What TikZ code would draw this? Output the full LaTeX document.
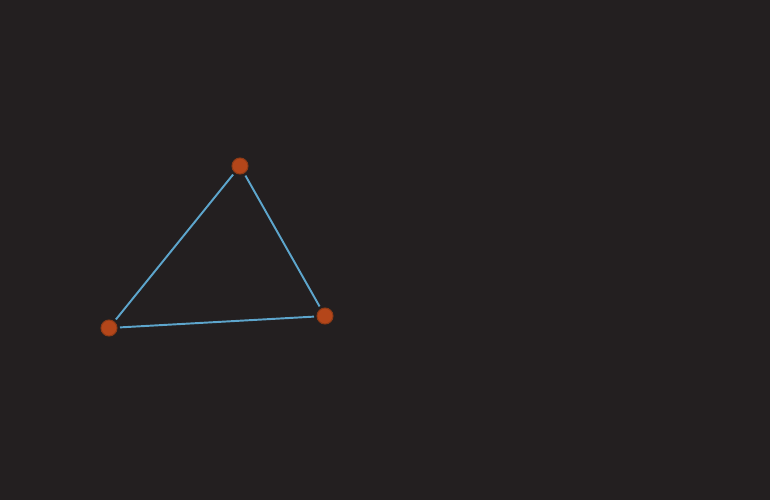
\documentclass[tikz,border=0pt]{standalone}
\definecolor{bgdark}{HTML}{231F20}
\definecolor{vertfill}{HTML}{B4461A}
\definecolor{vertline}{HTML}{8E3A16}
\definecolor{edgeblue}{HTML}{5DA5CC}
\tikzset{
  vert/.style={circle,fill=vertfill,draw=vertline,line width=0.3pt,minimum size=0.16cm,inner sep=0pt,outer sep=0.03cm},
  edge/.style={edgeblue,line width=0.55pt}
}
\begin{document}
\begin{tikzpicture}[x=0.01cm,y=-0.01cm]
\fill[bgdark] (0,0) rectangle (770,500);
\useasboundingbox (0,0) rectangle (770,500);

\node[vert] (v-top) at (240,166) {};
\node[vert] (v-left) at (109,328) {};
\node[vert] (v-right) at (325,316) {};

\foreach \a/\b in {top/left,left/right,right/top} { \draw[edge] (v-\a)--(v-\b); };
\end{tikzpicture}
\end{document}
